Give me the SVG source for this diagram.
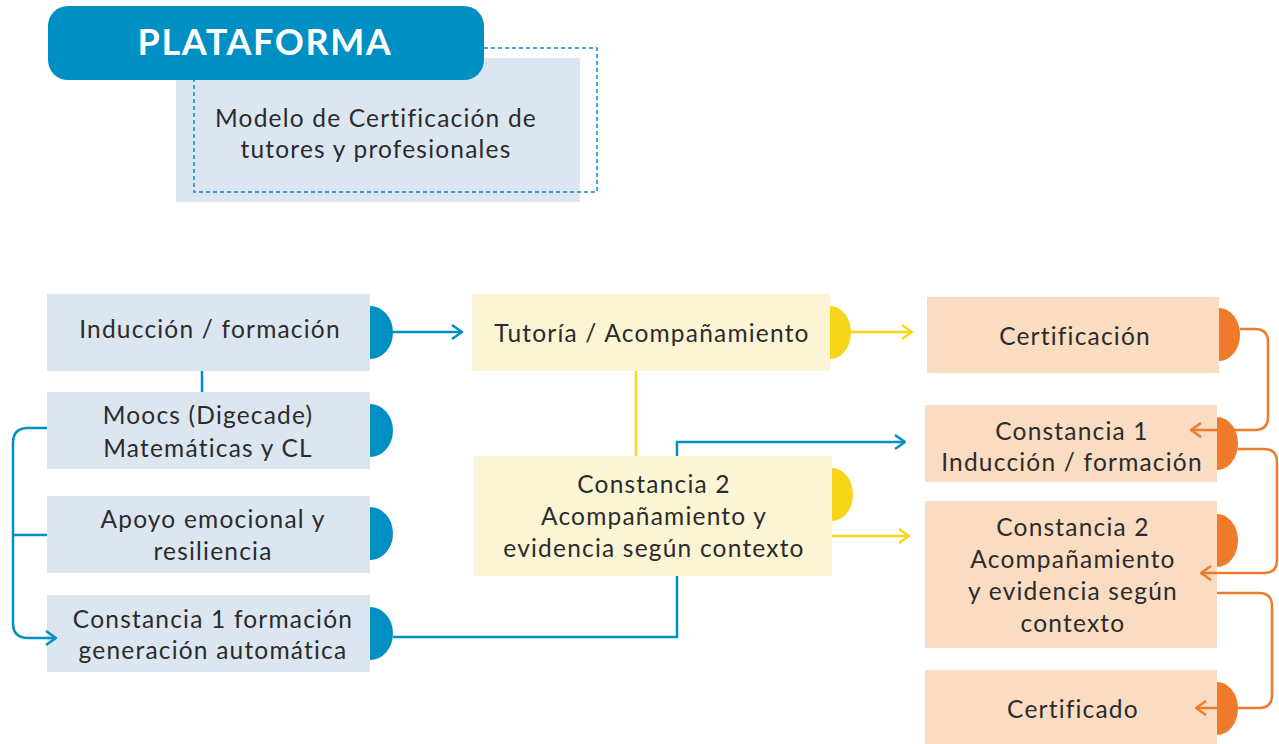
<svg xmlns="http://www.w3.org/2000/svg" width="1279" height="744" viewBox="0 0 1279 744">
<defs>
<style>
text{font-family:Lato,"Noto Sans",sans-serif;font-size:24.5px;fill:#2b2b2b;text-anchor:middle;letter-spacing:1.2px}
.title{font-weight:bold;font-size:36px;fill:#ffffff;letter-spacing:1.6px}
.b{fill:#dbe6f1}.y{fill:#fcf5d5}.p{fill:#fadcc2}
.bt{fill:#008fc3}.yt{fill:#f6d51b}.pt{fill:#ef7a2b}
.lb{fill:none;stroke:#008fc3;stroke-width:2.5}
.ly{fill:none;stroke:#f6d51b;stroke-width:2.5}
.lp{fill:none;stroke:#ef7a2b;stroke-width:2.5}
</style>
<marker id="ab" viewBox="0 0 12 16" refX="11" refY="8" markerWidth="12" markerHeight="16" markerUnits="userSpaceOnUse" orient="auto"><path d="M1,1 L11,8 L1,15" fill="none" stroke="#008fc3" stroke-width="2.5"/></marker>
<marker id="ay" viewBox="0 0 12 16" refX="11" refY="8" markerWidth="12" markerHeight="16" markerUnits="userSpaceOnUse" orient="auto"><path d="M1,1 L11,8 L1,15" fill="none" stroke="#f6d51b" stroke-width="2.5"/></marker>
<marker id="ap" viewBox="0 0 12 16" refX="11" refY="8" markerWidth="12" markerHeight="16" markerUnits="userSpaceOnUse" orient="auto"><path d="M1,1 L11,8 L1,15" fill="none" stroke="#ef7a2b" stroke-width="2.5"/></marker>
</defs>

<g id="header">
<rect x="176" y="58" width="404" height="144" class="b"/>
<path d="M484,48 H597 V192 H194 V80" fill="none" stroke="#008fc3" stroke-width="1.5" stroke-dasharray="4,3"/>
<rect x="48" y="6" width="436" height="74" rx="20" class="bt"/>
<text x="265" y="55" class="title">PLATAFORMA</text>
<text x="376" y="127">Modelo de Certificación de</text>
<text x="376" y="158">tutores y profesionales</text>
</g>

<g id="induccion">
<rect x="47" y="294" width="323" height="77" class="b"/>
<path d="M370,306 A23,26.5 0 0 1 370,359 Z" class="bt"/>
<text x="210" y="338">Inducción / formación</text>
</g>
<g id="moocs">
<rect x="47" y="392" width="323" height="77" class="b"/>
<path d="M370,404 A23,26.5 0 0 1 370,457 Z" class="bt"/>
<text x="208" y="424">Moocs (Digecade)</text>
<text x="208" y="457">Matemáticas y CL</text>
</g>
<g id="apoyo">
<rect x="47" y="496" width="323" height="77" class="b"/>
<path d="M370,507 A23,26.5 0 0 1 370,560 Z" class="bt"/>
<text x="213" y="528">Apoyo emocional y</text>
<text x="213" y="560">resiliencia</text>
</g>
<g id="constancia1-formacion">
<rect x="47" y="595" width="323" height="77" class="b"/>
<path d="M370,607 A23,26.5 0 0 1 370,660 Z" class="bt"/>
<text x="213" y="628">Constancia 1 formación</text>
<text x="213" y="659">generación automática</text>
</g>

<g id="tutoria">
<rect x="472" y="294" width="358" height="77" class="y"/>
<path d="M830,306 A21,26.5 0 0 1 830,359 Z" class="yt"/>
<text x="652" y="342">Tutoría / Acompañamiento</text>
</g>
<g id="constancia2-acomp">
<rect x="474" y="456" width="358" height="120" class="y"/>
<path d="M832,468 A21,26.5 0 0 1 832,521 Z" class="yt"/>
<text x="654" y="493">Constancia 2</text>
<text x="654" y="525">Acompañamiento y</text>
<text x="654" y="557">evidencia según contexto</text>
</g>

<g id="certificacion">
<rect x="927" y="297" width="292" height="76" class="p"/>
<path d="M1219,308 A21,26.5 0 0 1 1219,361 Z" class="pt"/>
<text x="1075" y="345">Certificación</text>
</g>
<g id="constancia1">
<rect x="925" y="405" width="292" height="77" class="p"/>
<path d="M1217,417 A21,26.5 0 0 1 1217,470 Z" class="pt"/>
<text x="1072" y="440">Constancia 1</text>
<text x="1072" y="471">Inducción / formación</text>
</g>
<g id="constancia2">
<rect x="925" y="501" width="292" height="147" class="p"/>
<path d="M1217,514 A21,26.5 0 0 1 1217,567 Z" class="pt"/>
<text x="1073" y="536">Constancia 2</text>
<text x="1073" y="568">Acompañamiento</text>
<text x="1073" y="600">y evidencia según</text>
<text x="1073" y="632">contexto</text>
</g>
<g id="certificado">
<rect x="925" y="670" width="292" height="74" class="p"/>
<path d="M1217,682 A21,26.5 0 0 1 1217,735 Z" class="pt"/>
<text x="1073" y="718">Certificado</text>
</g>

<g id="connectors">
<path d="M393,332 H462" class="lb" marker-end="url(#ab)"/>
<path d="M202,371 V392" class="lb"/>
<path d="M47,428 H28 Q13,428 13,443 V623 Q13,638 28,638 H56" class="lb" marker-end="url(#ab)"/>
<path d="M13,535 H47" class="lb"/>
<path d="M393,637 H677 V576" class="lb"/>
<path d="M677,456 V442 H905" class="lb" marker-end="url(#ab)"/>
<path d="M851,332 H912" class="ly" marker-end="url(#ay)"/>
<path d="M636,371 V456" class="ly"/>
<path d="M832,536 H909" class="ly" marker-end="url(#ay)"/>
<path d="M1240,329 H1255 Q1268,329 1268,342 V417 Q1268,430 1255,430 H1191" class="lp" marker-end="url(#ap)"/>
<path d="M1238,449 H1264 Q1277,449 1277,462 V560 Q1277,573 1264,573 H1201" class="lp" marker-end="url(#ap)"/>
<path d="M1217,593 H1259 Q1272,593 1272,606 V695 Q1272,708 1259,708 H1196" class="lp" marker-end="url(#ap)"/>
</g>
</svg>
